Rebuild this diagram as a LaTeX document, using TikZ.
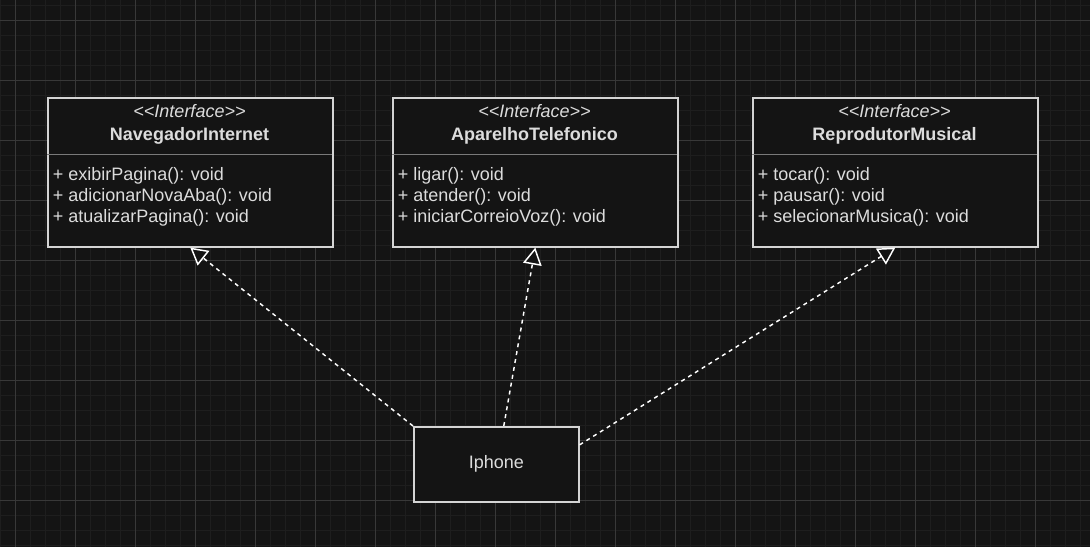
\documentclass[tikz,border=0pt]{standalone}
\usepackage{fontspec}
\setmainfont{Liberation Sans}
\usepackage{xcolor}
\usetikzlibrary{arrows.meta,positioning}

\definecolor{canvas}{HTML}{141414}
\definecolor{minorgrid}{HTML}{1E1E1E}
\definecolor{majorgrid}{HTML}{383838}
\definecolor{boxline}{HTML}{D4D4D4}
\definecolor{divcol}{HTML}{7A7A7A}
\definecolor{txt}{HTML}{DCDCDC}

\begin{document}
\begin{tikzpicture}[x=0.75pt,y=-0.75pt,
  umlbox/.style={draw=boxline,fill=canvas,line width=1.2pt,anchor=north west,inner sep=0pt,minimum width=213.75pt,minimum height=111.75pt},
  classbox/.style={draw=boxline,fill=canvas,line width=1.2pt,anchor=north west,inner sep=0pt,minimum width=123.75pt,minimum height=56.25pt,text=txt,font=\fontsize{13.5}{16}\selectfont},
  stereo/.style={anchor=base,inner sep=0pt,text=txt,font=\fontsize{13.5}{16}\selectfont\itshape},
  iname/.style={anchor=base,inner sep=0pt,text=txt,font=\fontsize{13.5}{16}\selectfont\bfseries},
  oper/.style={anchor=base west,inner sep=0pt,text=txt,font=\fontsize{13.5}{16}\selectfont},
  divline/.style={draw=divcol,line width=0.75pt},
  realizes/.style={draw=white,line width=1.1pt,dash pattern=on 3pt off 3pt,-{Triangle[open,length=12.75pt,width=14pt,fill=canvas]}}]

\useasboundingbox (0,0) rectangle (1090,547);
\fill[canvas] (0,0) rectangle (1090,547);

% grid
\foreach \gx in {0,15,...,1090} \draw[minorgrid,line width=0.75pt] (\gx,0) -- (\gx,547);
\foreach \gy in {5,20,...,547} \draw[minorgrid,line width=0.75pt] (0,\gy) -- (1090,\gy);
\foreach \gx in {15,75,...,1090} \draw[majorgrid,line width=0.75pt] (\gx,0) -- (\gx,547);
\foreach \gy in {20,80,...,547} \draw[majorgrid,line width=0.75pt] (0,\gy) -- (1090,\gy);

% interfaces
\node[umlbox] (nav) at (47,97) {};
\node[stereo] (navS) at (189.5,117) {{<}{<}Interface{>}{>}};
\node[iname] (navN) at (189.5,140) {NavegadorInternet};
\draw[divline] (47,154) -- (332,154);
\node[oper] (nav1) at (52.5,180) {+ exibirPagina(): void};
\node[oper] (nav2) at (52.5,201.5) {+ adicionarNovaAba(): void};
\node[oper] (nav3) at (52.5,222.5) {+ atualizarPagina(): void};

\node[umlbox] (tel) at (392,97) {};
\node[stereo] (telS) at (534.5,117) {{<}{<}Interface{>}{>}};
\node[iname] (telN) at (534.5,140) {AparelhoTelefonico};
\draw[divline] (392,154) -- (677,154);
\node[oper] (tel1) at (397.5,180) {+ ligar(): void};
\node[oper] (tel2) at (397.5,201.5) {+ atender(): void};
\node[oper] (tel3) at (397.5,222.5) {+ iniciarCorreioVoz(): void};

\node[umlbox] (mus) at (752,97) {};
\node[stereo] (musS) at (894.5,117) {{<}{<}Interface{>}{>}};
\node[iname] (musN) at (894.5,140) {ReprodutorMusical};
\draw[divline] (752,154) -- (1037,154);
\node[oper] (mus1) at (757.5,180) {+ tocar(): void};
\node[oper] (mus2) at (757.5,201.5) {+ pausar(): void};
\node[oper] (mus3) at (757.5,222.5) {+ selecionarMusica(): void};

% class
\node[classbox] (iphone) at (413,426) {Iphone};

% realizations
\draw[realizes] (iphone.north west) -- (nav.south);
\draw[realizes] ([xshift=5.6pt]iphone.north) -- (tel.south);
\draw[realizes] ([yshift=14.6pt]iphone.east) -- (mus.south);
\end{tikzpicture}
\end{document}
